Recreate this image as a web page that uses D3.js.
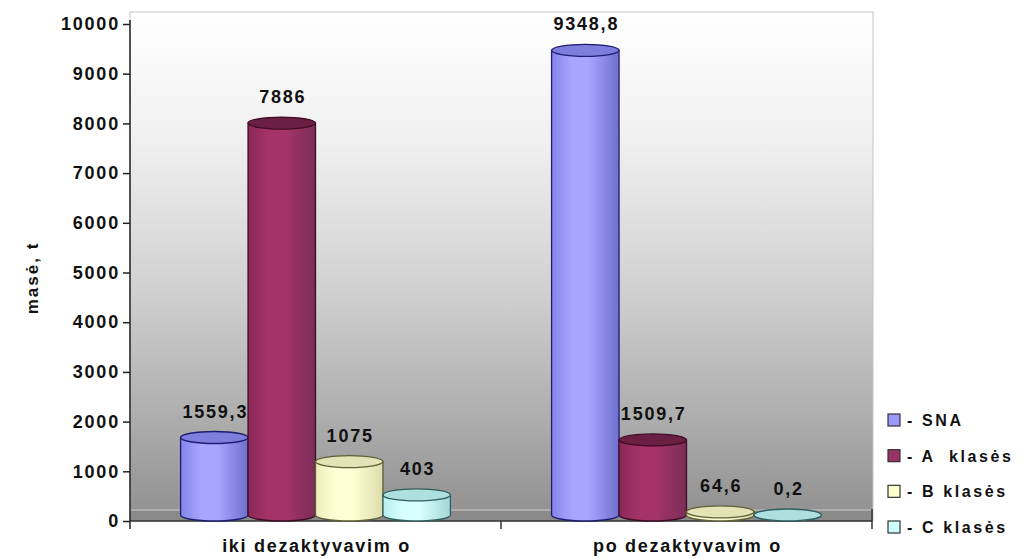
<!DOCTYPE html>
<html>
<head>
<meta charset="utf-8">
<script src="https://cdn.jsdelivr.net/npm/d3@7"></script>
<style>
  html, body { margin: 0; padding: 0; background: #fff; }
  svg { display: block; font-family: "Liberation Sans", Arial, sans-serif; font-weight: bold; }
</style>
</head>
<body>
<div id="chart"></div>
<script>
const categories = ["iki dezaktyvavim o", "po dezaktyvavim o"];
const seriesNames = ["- SNA", "- A  klasės", "- B klasės", "- C klasės"];
const snaValues = [1559.3, 9348.8];
const aValues = [7886, 1509.7];
const bValues = [1075, 64.6];
const cValues = [403, 0.2];
const yTicks = [0, 1000, 2000, 3000, 4000, 5000, 6000, 7000, 8000, 9000, 10000];
const yTitle = "masė, t";

function chart() {
    const width = 1031;
    const height = 559;

    // colours per series: left, highlight, right, edge, top
    const palette = [
        { base: "#9999ff", left: "#8585ea", mid: "#a6a6ff", right: "#6f6fcc", edge: "#1c1c70", top: "#7e7edc" },
        { base: "#993366", left: "#8a2858", mid: "#a53369", right: "#7a2e57", edge: "#3e0c24", top: "#6a1f43" },
        { base: "#ffffcc", left: "#ededba", mid: "#ffffd6", right: "#dcdcab", edge: "#5e5e38", top: "#e3e3b5" },
        { base: "#ccffff", left: "#b8eeee", mid: "#d8ffff", right: "#a3d6d6", edge: "#2f5e5e", top: "#aee0e0" }
    ];
    const seriesValues = [snaValues, aValues, bValues, cValues];

    const y = d3.scaleLinear().domain([0, 10000]).range([521, 24]);
    const x = d3.scaleBand().domain(categories).range([130, 872]);
    const xs = d3.scaleBand().domain(seriesNames).range([0, x.bandwidth()])
        .paddingInner(0).paddingOuter(0.75);

    const svg = d3.create("svg")
        .attr("width", width)
        .attr("height", height)
        .attr("viewBox", [0, 0, width, height]);

    const defs = svg.append("defs");

    // wall gradient
    const wall = defs.append("linearGradient")
        .attr("id", "wall").attr("x1", 0).attr("y1", 0).attr("x2", 0).attr("y2", 1);
    [[0, "#ffffff"], [0.25, "#f0f0f0"], [0.55, "#d0d0d0"], [0.8, "#adadad"], [1, "#8f8f8f"]]
        .forEach(([o, c]) => wall.append("stop").attr("offset", o).attr("stop-color", c));

    palette.forEach((p, i) => {
        const g = defs.append("linearGradient")
            .attr("id", "cyl" + i).attr("x1", 0).attr("y1", 0).attr("x2", 1).attr("y2", 0);
        g.append("stop").attr("offset", 0).attr("stop-color", p.left);
        g.append("stop").attr("offset", 0.3).attr("stop-color", p.mid);
        g.append("stop").attr("offset", 0.55).attr("stop-color", p.mid);
        g.append("stop").attr("offset", 1).attr("stop-color", p.right);
    });

    // back wall
    svg.append("rect")
        .attr("x", 130).attr("y", 12)
        .attr("width", 743).attr("height", y(0) - 12)
        .attr("fill", "url(#wall)")
        .attr("stroke", "#c4c4c4");

    // floor
    svg.append("rect")
        .attr("x", 130).attr("y", y(0) - 12)
        .attr("width", 742).attr("height", 12)
        .attr("fill", "#8a8a8a");
    svg.append("line")
        .attr("x1", 130).attr("x2", 872)
        .attr("y1", y(0) - 11).attr("y2", y(0) - 11)
        .attr("stroke", "#b9b9b9").attr("stroke-width", 1.5);

    // y axis
    const yAxis = svg.append("g")
        .attr("transform", "translate(130,0)")
        .call(d3.axisLeft(y).tickValues(yTicks).tickSize(7).tickPadding(3).tickFormat(d3.format("d")));
    yAxis.select(".domain").remove();
    yAxis.selectAll("line").attr("stroke", "#222").attr("stroke-width", 1.5);
    yAxis.selectAll("text")
        .attr("font-size", 18).attr("font-weight", "bold")
        .attr("letter-spacing", 1.8).attr("fill", "#111")
        .attr("font-family", "Liberation Sans, Arial, sans-serif");
    svg.append("line")
        .attr("x1", 130).attr("x2", 130).attr("y1", 20).attr("y2", 529)
        .attr("stroke", "#222").attr("stroke-width", 1.5);

    // x axis
    svg.append("line")
        .attr("x1", 130).attr("x2", 872).attr("y1", y(0)).attr("y2", y(0))
        .attr("stroke", "#333").attr("stroke-width", 1.5);
    const bounds = categories.map(c => x(c)).concat([x.range()[1]]);
    svg.append("g").selectAll("line").data(bounds.slice(1)).join("line")
        .attr("x1", d => d).attr("x2", d => d)
        .attr("y1", d => d === x.range()[1] ? y(0) - 12 : y(0))
        .attr("y2", y(0) + 8)
        .attr("stroke", "#333").attr("stroke-width", 1.5);

    svg.append("g").selectAll("text").data(categories).join("text")
        .attr("x", d => x(d) + x.bandwidth() / 2 + 1)
        .attr("y", 552)
        .attr("text-anchor", "middle")
        .attr("font-size", 18)
        .attr("letter-spacing", 1.7)
        .attr("fill", "#111")
        .style("white-space", "pre")
        .text(d => d);

    // y title
    svg.append("text")
        .attr("transform", "translate(38,278) rotate(-90)")
        .attr("text-anchor", "middle")
        .attr("font-size", 17)
        .attr("letter-spacing", 2)
        .attr("fill", "#111")
        .text(yTitle);

    // cylinders
    const ry = 6;
    const bars = [];
    categories.forEach((c, ci) => {
        seriesNames.forEach((s, si) => {
            bars.push({ cat: c, series: s, si, value: seriesValues[si][ci] });
        });
    });

    const barG = svg.append("g").selectAll("g").data(bars).join("g");

    barG.each(function(d) {
        const g = d3.select(this);
        const p = palette[d.si];
        const x0 = x(d.cat) + xs(d.series);
        const w = xs.bandwidth();
        const rx = w / 2;
        const yBase = y(0) - ry;
        const yTop = y(d.value) - ry;
        g.append("path")
            .attr("d", `M${x0},${yTop} L${x0},${yBase} A${rx},${ry} 0 0 0 ${x0 + w},${yBase} L${x0 + w},${yTop} Z`)
            .attr("fill", `url(#cyl${d.si})`)
            .attr("stroke", p.edge)
            .attr("stroke-width", 1.3);
        g.append("ellipse")
            .attr("cx", x0 + rx).attr("cy", yTop)
            .attr("rx", rx).attr("ry", ry)
            .attr("fill", p.top)
            .attr("stroke", p.edge)
            .attr("stroke-width", 1.3);
        g.append("text")
            .attr("x", x0 + rx + 1)
            .attr("y", y(d.value) - 26)
            .attr("text-anchor", "middle")
            .attr("font-size", 18)
            .attr("letter-spacing", 1.8)
            .attr("fill", "#111")
            .text(String(d.value).replace(".", ","));
    });

    // legend
    const legendY = d3.scalePoint().domain(seriesNames).range([420, 527]);
    const legend = svg.append("g").selectAll("g").data(seriesNames).join("g")
        .attr("transform", d => `translate(888,${legendY(d)})`);
    legend.append("rect")
        .attr("x", 0).attr("y", -6).attr("width", 12).attr("height", 12)
        .attr("fill", (d, i) => palette[i].base)
        .attr("stroke", "#333").attr("stroke-width", 1.2);
    legend.append("text")
        .attr("x", 19).attr("y", 6)
        .attr("font-size", 16)
        .attr("letter-spacing", 2.6)
        .attr("fill", "#111")
        .style("white-space", "pre")
        .text(d => d);

    return svg.node();
}

document.getElementById("chart").appendChild(chart());
</script>
</body>
</html>
